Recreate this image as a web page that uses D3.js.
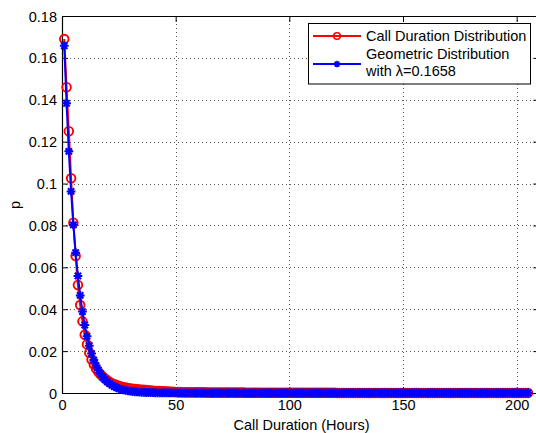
<!DOCTYPE html>
<html>
<head>
<meta charset="utf-8">
<script src="https://cdn.jsdelivr.net/npm/d3@7"></script>
<style>
  html, body { margin: 0; padding: 0; background: #fff; }
  svg { display: block; font-family: "Liberation Sans", Arial, Helvetica, sans-serif; }
</style>
</head>
<body>
<svg id="chart" width="536" height="433"></svg>
<script>
// ---------- DATA ----------
const hours = d3.range(1, 206); // call duration in hours: 1..205

const callDurationP = [
0.169,0.146,0.125,0.1025,0.0813,0.0654,0.0516,0.0420,0.0342,0.0278,
0.0232,0.0192,0.0160,0.0136,0.0116,0.0100,0.0088,0.0077,0.0068,0.0060,
0.0053,0.0047,0.0042,0.0038,0.0034,0.0031,0.0028,0.0026,0.0024,0.0022,
0.0020,0.0019,0.0018,0.0017,0.0016,0.0015,0.0014,0.0013,0.0012,0.0011,
0.0010,0.0009,0.0009,0.0008,0.0008,0.0007,0.0007,0.0006,0.0006,0.0005,
0.0005,0.0005,0.0004,0.0004,0.0004,0.0004,0.0003,0.0003,0.0003,0.0003,
0.0003,0.0003,0.0003,0.0002,0.0002,0.0002,0.0002,0.0002,0.0002,0.0002,
0.0002,0.0002,0.0002,0.0002,0.0002,0.0002,0.0002,0.0002,0.0002,0.0002,
0.0001,0.0001,0.0001,0.0001,0.0001,0.0001,0.0001,0.0001,0.0001,0.0001,
0.0001,0.0001,0.0001,0.0001,0.0001,0.0001,0.0001,0.0001,0.0001,0.0001,
0.0001,0.0001,0.0001,0.0001,0.0001,0.0001,0.0001,0.0001,0.0001,0.0001,
0.0001,0.0001,0.0001,0.0001,0.0001,0.0001,0.0001,0.0001,0.0001,0.0001,
0.00005,0.00005,0.00005,0.00005,0.00005,0.00005,0.00005,0.00005,0.00005,0.00005,
0.00005,0.00005,0.00005,0.00005,0.00005,0.00005,0.00005,0.00005,0.00005,0.00005,
0.00005,0.00005,0.00005,0.00005,0.00005,0.00005,0.00005,0.00005,0.00005,0.00005,
0.00005,0.00005,0.00005,0.00005,0.00005,0.00005,0.00005,0.00005,0.00005,0.00005,
0.00005,0.00005,0.00005,0.00005,0.00005,0.00005,0.00005,0.00005,0.00005,0.00005,
0.00005,0.00005,0.00005,0.00005,0.00005,0.00005,0.00005,0.00005,0.00005,0.00005,
0.00005,0.00005,0.00005,0.00005,0.00005,0.00005,0.00005,0.00005,0.00005,0.00005,
0.00005,0.00005,0.00005,0.00005,0.00005,0.00005,0.00005,0.00005,0.00005,0.00005,
0.00005,0.00005,0.00005,0.00005,0.00005
];

const geometricP = [
0.16580,0.13831,0.11538,0.09625,0.08029,0.06698,0.05587,0.04661,0.03888,0.03244,
0.02706,0.02257,0.01883,0.01571,0.01310,0.01093,0.00912,0.00761,0.00635,0.00529,
0.00442,0.00368,0.00307,0.00256,0.00214,0.00178,0.00149,0.00124,0.00104,0.00086,
0.00072,0.00060,0.00050,0.00042,0.00035,0.00029,0.00024,0.00020,0.00017,0.00014,
0.00012,0.00010,0.00008,0.00007,0.00006,0.00005,0.00004,0.00003,0.00003,0.00002,
0,0,0,0,0,0,0,0,0,0,
0,0,0,0,0,0,0,0,0,0,
0,0,0,0,0,0,0,0,0,0,
0,0,0,0,0,0,0,0,0,0,
0,0,0,0,0,0,0,0,0,0,
0,0,0,0,0,0,0,0,0,0,
0,0,0,0,0,0,0,0,0,0,
0,0,0,0,0,0,0,0,0,0,
0,0,0,0,0,0,0,0,0,0,
0,0,0,0,0,0,0,0,0,0,
0,0,0,0,0,0,0,0,0,0,
0,0,0,0,0,0,0,0,0,0,
0,0,0,0,0,0,0,0,0,0,
0,0,0,0,0,0,0,0,0,0,
0,0,0,0,0,0,0,0,0,0,
0,0,0,0,0
];

const xTicks = [0, 50, 100, 150, 200];
const xTickLabels = ["0", "50", "100", "150", "200"];
const yTicks = [0, 0.02, 0.04, 0.06, 0.08, 0.1, 0.12, 0.14, 0.16, 0.18];
const yTickLabels = ["0", "0.02", "0.04", "0.06", "0.08", "0.1", "0.12", "0.14", "0.16", "0.18"];

const seriesNames = ["Call Duration Distribution", "Geometric Distribution", "with \u03BB=0.1658"];
const xLabel = "Call Duration (Hours)";
const yLabel = "p";

// ---------- LAYOUT ----------
(function draw() {
const svg = d3.select("#chart");
const pL = 62, pR = 539.4, pT = 16, pB = 393;
const x = d3.scaleLinear().domain([0, 210]).range([pL, pR]);
const y = d3.scaleLinear().domain([0, 0.18]).range([pB, pT]);
const fontSize = 14.5;

svg.append("rect").attr("width", 536).attr("height", 433).attr("fill", "#fff");

// gridlines
const grid = svg.append("g").attr("stroke", "#555").attr("stroke-width", 1)
  .attr("stroke-dasharray", "1,3");
grid.selectAll(".vg").data(xTicks.filter(d => d > 0)).join("line")
  .attr("x1", d => Math.round(x(d)) + 0.5).attr("x2", d => Math.round(x(d)) + 0.5)
  .attr("y1", pT).attr("y2", pB);
grid.selectAll(".hg").data(yTicks.filter(d => d > 0 && d < 0.18)).join("line")
  .attr("y1", d => Math.round(y(d)) + 0.5).attr("y2", d => Math.round(y(d)) + 0.5)
  .attr("x1", pL).attr("x2", pR);

// axes
function styleAxis(g) {
  g.selectAll("path.domain").attr("stroke", "#000").attr("stroke-width", 1.2);
  g.selectAll(".tick line").attr("stroke", "#000").attr("stroke-width", 1);
  g.selectAll("text").attr("font-size", fontSize).attr("fill", "#000")
    .attr("font-family", "'Liberation Sans', Arial, Helvetica, sans-serif");
}
svg.append("g").attr("transform", `translate(0,${pB})`)
  .call(d3.axisBottom(x).tickValues(xTicks).tickFormat((d, i) => xTickLabels[i])
    .tickSizeInner(-6).tickSizeOuter(0).tickPadding(7))
  .call(styleAxis).call(g => g.selectAll("text").attr("dy", "0.71em"));
svg.append("g").attr("transform", `translate(0,${pT})`)
  .call(d3.axisTop(x).tickValues(xTicks).tickFormat("").tickSizeInner(-6).tickSizeOuter(0))
  .call(styleAxis);
svg.append("g").attr("transform", `translate(${pL},0)`)
  .call(d3.axisLeft(y).tickValues(yTicks).tickFormat((d, i) => yTickLabels[i])
    .tickSizeInner(-6).tickSizeOuter(0).tickPadding(5))
  .call(styleAxis).call(g => g.selectAll("text").attr("dy", "0.35em"));
svg.append("g").attr("transform", `translate(${pR},0)`)
  .call(d3.axisRight(y).tickValues(yTicks).tickFormat("").tickSizeInner(-6).tickSizeOuter(0))
  .call(styleAxis);

// axis labels
svg.append("text").attr("x", 301.5).attr("y", 430)
  .attr("text-anchor", "middle").attr("font-size", fontSize).text(xLabel);
svg.append("text").attr("transform", "translate(20,205) rotate(-90)")
  .attr("text-anchor", "middle").attr("font-size", fontSize).text(yLabel);

// ---------- SERIES ----------
const callData = hours.map((h, i) => ({ x: h, p: callDurationP[i] }));
const geoData = hours.map((h, i) => ({ x: h, p: geometricP[i] }));
const line = d3.line().x(d => x(d.x)).y(d => y(d.p));

const r = 4.3;
const a = 4.4, b = a * 0.72;
const starPath = `M${-a},0L${a},0M0,${-a}L0,${a}M${-b},${-b}L${b},${b}M${-b},${b}L${b},${-b}`;

svg.append("path").datum(callData).attr("d", line)
  .attr("fill", "none").attr("stroke", "#ff0000").attr("stroke-width", 2);
svg.append("g").selectAll("circle").data(callData).join("circle")
  .attr("cx", d => x(d.x)).attr("cy", d => y(d.p)).attr("r", r)
  .attr("fill", "none").attr("stroke", "#ff0000").attr("stroke-width", 1.9);

svg.append("path").datum(geoData).attr("d", line)
  .attr("fill", "none").attr("stroke", "#0000ff").attr("stroke-width", 2);
svg.append("g").selectAll("path").data(geoData).join("path")
  .attr("transform", d => `translate(${x(d.x)},${y(d.p)})`).attr("d", starPath)
  .attr("fill", "none").attr("stroke", "#0000ff").attr("stroke-width", 2);

// ---------- LEGEND ----------
const lg = svg.append("g");
lg.append("rect").attr("x", 308.5).attr("y", 23.5).attr("width", 222).attr("height", 60.5)
  .attr("fill", "#fff").attr("stroke", "#000").attr("stroke-width", 1);
lg.append("line").attr("x1", 313).attr("x2", 361).attr("y1", 36).attr("y2", 36)
  .attr("stroke", "#ff0000").attr("stroke-width", 2);
lg.append("circle").attr("cx", 337).attr("cy", 36).attr("r", 3.3)
  .attr("fill", "none").attr("stroke", "#ff0000").attr("stroke-width", 1.6);
lg.append("line").attr("x1", 313).attr("x2", 361).attr("y1", 64).attr("y2", 64)
  .attr("stroke", "#0000ff").attr("stroke-width", 2);
lg.append("path").attr("transform", "translate(337,64) scale(0.75)").attr("d", starPath)
  .attr("fill", "none").attr("stroke", "#0000ff").attr("stroke-width", 2.2);
lg.append("text").attr("x", 366).attr("y", 41).attr("font-size", fontSize).text(seriesNames[0]);
lg.append("text").attr("x", 366).attr("y", 58.5).attr("font-size", fontSize).text(seriesNames[1]);
lg.append("text").attr("x", 366).attr("y", 76).attr("font-size", fontSize).text(seriesNames[2]);
})();
</script>
</body>
</html>
